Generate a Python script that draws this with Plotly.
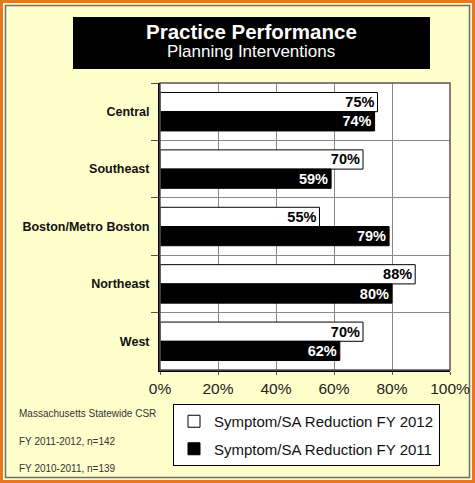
import plotly.graph_objects as go

categories = ["Central", "Southeast", "Boston/Metro Boston", "Northeast", "West"]
fy2012 = [75, 70, 55, 88, 70]
fy2011 = [74, 59, 79, 80, 62]
series_names = ["Symptom/SA Reduction FY 2012", "Symptom/SA Reduction FY 2011"]
x_ticks = [0, 20, 40, 60, 80, 100]
x_tick_labels = ["0%", "20%", "40%", "60%", "80%", "100%"]
notes = ["Massachusetts Statewide CSR", "FY 2011-2012, n=142", "FY 2010-2011, n=139"]

W, H = 475, 483
L, R, T, B = 160, 450, 83, 370
pw, ph = R - L, B - T
FONT = "Liberation Sans, Arial, Helvetica"

def px(x):
    return (x - L) / pw

def py(y):
    return (B - y) / ph

fig = go.Figure()
fig.add_trace(go.Bar(
    y=categories, x=fy2012, orientation="h", name=series_names[0],
    marker=dict(color="white", line=dict(color="black", width=1)),
    text=[f"{v}%" for v in fy2012], texttemplate="%{text}",
    textposition="inside", insidetextanchor="end",
    textangle=0, constraintext="none",
    textfont=dict(family=FONT, size=14.5, color="black", weight="bold"),
    legendgroup="a",
))
fig.add_trace(go.Bar(
    y=categories, x=fy2011, orientation="h", name=series_names[1],
    marker=dict(color="black", line=dict(color="black", width=1)),
    text=[f"{v}%" for v in fy2011], texttemplate="%{text}",
    textposition="inside", insidetextanchor="end",
    textangle=0, constraintext="none",
    textfont=dict(family=FONT, size=14.5, color="white", weight="bold"),
    legendgroup="b",
))

shapes = []
shapes.append(dict(type="rect", xref="paper", yref="paper",
                   x0=px(1.5), x1=px(W - 1.5), y0=py(1.5), y1=py(H - 1.5),
                   line=dict(color="#E87722", width=3), layer="below"))
shapes.append(dict(type="rect", xref="paper", yref="paper",
                   x0=px(5.5), x1=px(W - 5.5), y0=py(5.5), y1=py(H - 5.5),
                   line=dict(color="#6e6e6e", width=1.5), layer="below"))
shapes.append(dict(type="rect", xref="paper", yref="paper",
                   x0=px(73), x1=px(430), y0=py(17), y1=py(69),
                   fillcolor="black", line=dict(color="black", width=0), layer="below"))
shapes.append(dict(type="rect", xref="paper", yref="paper",
                   x0=0, x1=1, y0=0, y1=1,
                   line=dict(color="#555555", width=1.5), layer="above"))

annotations = [
    dict(text="<b>Practice Performance</b>", xref="paper", yref="paper",
         x=px(251), y=py(32), xanchor="center", yanchor="middle", showarrow=False,
         font=dict(family=FONT, size=20.5, color="white")),
    dict(text="Planning Interventions", xref="paper", yref="paper",
         x=px(251), y=py(51), xanchor="center", yanchor="middle", showarrow=False,
         font=dict(family=FONT, size=17, color="white")),
]
for i, t in enumerate(notes):
    annotations.append(dict(text=t, xref="paper", yref="paper",
                            x=px(17), y=py(413.5 + 27.5 * i), xanchor="left", yanchor="middle",
                            showarrow=False,
                            font=dict(family=FONT, size=10, color="#333333")))

fig.update_layout(
    width=W, height=H,
    margin=dict(l=L, r=W - R, t=T, b=H - B, pad=0, autoexpand=False),
    paper_bgcolor="#FFFFCC", plot_bgcolor="white",
    barmode="group", bargap=0.33, bargroupgap=0,
    shapes=shapes, annotations=annotations,
    xaxis=dict(range=[0, 100], tickvals=x_ticks, ticktext=x_tick_labels,
               showgrid=True, gridcolor="#888888", gridwidth=1,
               ticks="outside", ticklen=3, tickcolor="#555555",
               showline=True, linecolor="black", linewidth=2,
               tickfont=dict(family=FONT, size=15.5, color="#222222"),
               zeroline=False, fixedrange=True),
    yaxis=dict(autorange="reversed", tickson="boundaries",
               showgrid=True, gridcolor="#888888", gridwidth=1,
               ticks="outside", ticklen=7, tickcolor="#555555",
               showline=True, linecolor="black", linewidth=2,
               tickfont=dict(family=FONT, size=12.5, color="#111111", weight="bold"),
               ticklabelstandoff=6, fixedrange=True),
    legend=dict(x=px(173), y=py(404), xanchor="left", yanchor="top",
                bgcolor="white", bordercolor="black", borderwidth=1,
                font=dict(family=FONT, size=15, color="#111111"),
                tracegroupgap=5, itemwidth=30, traceorder="grouped"),
    showlegend=True,
)

fig.write_html("out.html", post_script="document.body.style.margin='0';",
               config={"displayModeBar": False})
